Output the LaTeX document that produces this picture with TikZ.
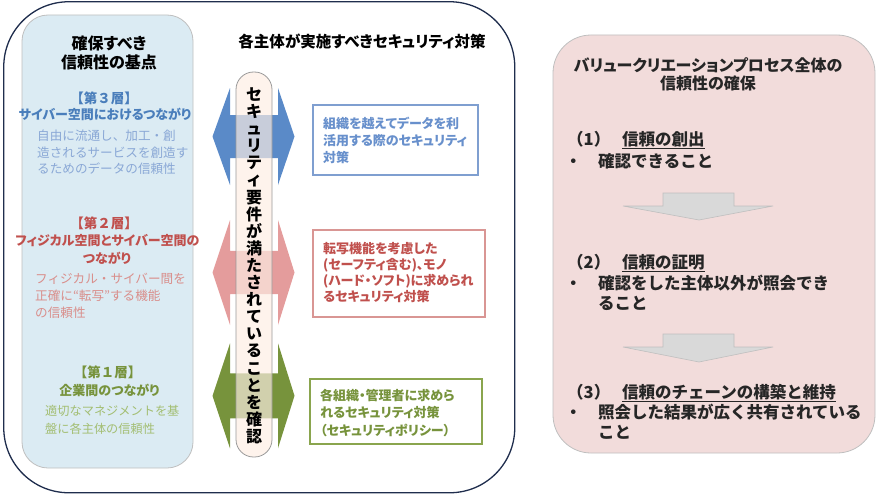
\documentclass[tikz,border=0pt]{standalone}
\usepackage{fontspec}
\setmainfont{Noto Sans CJK JP}
\newfontfamily\pjp{Noto Sans CJK JP}[RawFeature={+palt}]
\newcommand\myfs[2]{\fontsize{#1}{#2}\selectfont}
\definecolor{navy}{HTML}{1F2D4D}
\definecolor{lbfill}{HTML}{DBEBF3}
\definecolor{boxgray}{HTML}{BFBFBF}
\definecolor{pinkfill}{HTML}{F2DCDB}
\definecolor{pillfill}{HTML}{FDEEE3}
\definecolor{arrblue}{HTML}{5A8AC8}
\definecolor{arrred}{HTML}{E49C9C}
\definecolor{arrgreen}{HTML}{77933C}
\definecolor{hblue}{HTML}{4A7EBB}
\definecolor{dblue}{HTML}{8AA8D6}
\definecolor{hred}{HTML}{C0504D}
\definecolor{dred}{HTML}{D98E8B}
\definecolor{hgreen}{HTML}{77933C}
\definecolor{dgreen}{HTML}{A3BE72}
\definecolor{tblue}{HTML}{6890CC}
\definecolor{bblue}{HTML}{7F9FD0}
\definecolor{bred}{HTML}{D99694}
\definecolor{bgreen}{HTML}{8AA54E}
\definecolor{grayarr}{HTML}{D9D9D9}
\definecolor{txtdark}{HTML}{262626}
\tikzset{
  t/.style={inner sep=0, anchor=base},
  tl/.style={inner sep=0, anchor=base west},
  panel/.style={draw=boxgray, line width=0.8pt, inner sep=0},
  tbox/.style={draw, line width=1.5pt, fill=white, inner sep=0},
  leftdesc/.style={tl, font=\myfs{12.6}{15}},
  lefthead/.style={t, font=\pjp\bfseries\myfs{13}{15}},
  layerhead/.style={t, font=\bfseries\myfs{13.5}{15}},
  boxtxt/.style={tl, font=\pjp\bfseries\myfs{13}{15}},
  itemtxt/.style={tl, font=\bfseries\myfs{16.5}{20}, text=txtdark},
}
\begin{document}
\begin{tikzpicture}[x=1pt,y=-1pt]
\useasboundingbox (0,0) rectangle (886,495);
% outer frame
\node[draw=navy, line width=1.3pt, rounded corners=65pt, minimum width=511pt, minimum height=491pt, inner sep=0] (outer) at (259.25,247.25) {};
% left panel
\node[panel, fill=lbfill, rounded corners=26pt, minimum width=171pt, minimum height=453pt] (leftp) at (107.5,241.5) {};
% double arrows
\newcommand\dblarrow[4]{%
  \fill[#1] (212.5,#2) -- (230,#2-#3) -- (230,#2-#4) -- (278,#2-#4) -- (278,#2-#3) -- (294.5,#2)
     -- (278,#2+#3) -- (278,#2+#4) -- (230,#2+#4) -- (230,#2+#3) -- cycle;}
\dblarrow{arrblue}{136.5}{48.5}{21.5}
\dblarrow{arrred}{272.5}{52.5}{21.7}
\dblarrow{arrgreen}{395.8}{52.5}{22.5}
% pill
\node[draw=boxgray!80!black, line width=0.8pt, fill=pillfill, fill opacity=0.68, draw opacity=1, rounded corners=17.5pt, minimum width=36pt, minimum height=385pt, inner sep=0] (pill) at (254,264.5) {};
\node[inner sep=0, align=center, font=\bfseries\myfs{16}{17.1}, text=black] (vt) at (254,265.8)
 {セ\\キ\\ュ\\リ\\テ\\ィ\\要\\件\\が\\満\\た\\さ\\れ\\て\\い\\る\\こ\\と\\を\\確\\認};
% left texts
\node[t, font=\pjp\bfseries\myfs{16}{20}] (lt1) at (109,49) {確保すべき};
\node[t, font=\pjp\bfseries\myfs{16}{20}] (lt2) at (109,69) {信頼性の基点};
\node[layerhead, text=hblue] (l3h) at (104,103) {【第３層】};
\node[lefthead, text=hblue] (l3t) at (105,119) {サイバー空間におけるつながり};
\node[leftdesc, text=dblue] (l3d1) at (37,140) {自由に流通し、加工・創};
\node[leftdesc, text=dblue] (l3d2) at (37,157) {造されるサービスを創造す};
\node[leftdesc, text=dblue] (l3d3) at (37,173) {るためのデータの信頼性};
\node[layerhead, text=hred] (l2h) at (104,228) {【第２層】};
\node[lefthead, text=hred] (l2t) at (107.5,245) {フィジカル空間とサイバー空間の};
\node[lefthead, text=hred] (l2u) at (107,263) {つながり};
\node[leftdesc, text=dred] (l2d1) at (35,283) {フィジカル・サイバー間を};
\node[leftdesc, text=dred] (l2d2) at (35,300) {正確に“転写”する機能};
\node[leftdesc, text=dred] (l2d3) at (35,317) {の信頼性};
\node[layerhead, text=hgreen] (l1h) at (107.5,377) {【第１層】};
\node[lefthead, text=hgreen] (l1t) at (109.5,395) {企業間のつながり};
\node[leftdesc, text=dgreen, font=\myfs{12.2}{15}] (l1d1) at (45,415) {適切なマネジメントを基};
\node[leftdesc, text=dgreen, font=\myfs{12.2}{15}] (l1d2) at (45,433) {盤に各主体の信頼性};
% middle title
\node[t, font=\pjp\bfseries\myfs{15.5}{20}] (mt) at (362,47.7) {各主体が実施すべきセキュリティ対策};
% right text boxes
\node[tbox, draw=bblue, minimum width=165pt, minimum height=70pt] (bbox) at (395.5,140) {};
\node[boxtxt, text=tblue] (bb1) at (323,128) {組織を越えてデータを利};
\node[boxtxt, text=tblue] (bb2) at (323,145) {活用する際のセキュリティ};
\node[boxtxt, text=tblue] (bb3) at (323,162) {対策};
\node[tbox, draw=bred, minimum width=172pt, minimum height=87pt] (rbox) at (399,273.5) {};
\node[boxtxt, text=hred] (rb1) at (323,253) {転写機能を考慮した};
\node[boxtxt, text=hred] (rb2) at (323,269) {(セーフティ含む)、モノ};
\node[boxtxt, text=hred] (rb3) at (323,285) {(ハード・ソフト)に求められ};
\node[boxtxt, text=hred] (rb4) at (323,301) {るセキュリティ対策};
\node[tbox, draw=bgreen, minimum width=172pt, minimum height=65pt] (gbox) at (396,411.5) {};
\node[boxtxt, text=hgreen] (gb1) at (320,400) {各組織・管理者に求めら};
\node[boxtxt, text=hgreen] (gb2) at (320,417) {れるセキュリティ対策};
\node[boxtxt, text=hgreen] (gb3) at (320,435) {（セキュリティポリシー）};
% right panel
\node[panel, fill=pinkfill, rounded corners=38pt, minimum width=322pt, minimum height=418pt] (rightp) at (714,244) {};
\node[t, font=\pjp\bfseries\myfs{16}{20}, text=txtdark] (rt1) at (708,71) {バリュークリエーションプロセス全体の};
\node[t, font=\pjp\bfseries\myfs{16}{20}, text=txtdark] (rt2) at (708,89) {信頼性の確保};
\node[itemtxt] (i1) at (567,145.3) {\makebox[55pt][l]{（1）}\underline{信頼の創出}};
\node[itemtxt] (i1b) at (565,167.3) {\makebox[33pt][l]{・}確認できること};
\fill[grayarr, draw=boxgray, line width=0.6pt] (663,193) -- (734,193) -- (734,206) -- (773,206) -- (699,220) -- (623,206) -- (663,206) -- cycle;
\node[itemtxt] (i2) at (567,268.3) {\makebox[55pt][l]{（2）}\underline{信頼の証明}};
\node[itemtxt] (i2b) at (565,289.3) {\makebox[33pt][l]{・}確認をした主体以外が照会でき};
\node[itemtxt] (i2c) at (598,309.3) {ること};
\fill[grayarr, draw=boxgray, line width=0.6pt] (663,334) -- (734,334) -- (734,347) -- (773,347) -- (699,362) -- (623,347) -- (663,347) -- cycle;
\node[itemtxt] (i3) at (567,398.3) {\makebox[55pt][l]{（3）}\underline{信頼のチェーンの構築と維持}};
\node[itemtxt] (i3b) at (565,418.3) {\makebox[33pt][l]{・}照会した結果が広く共有されている};
\node[itemtxt] (i3c) at (598,438.3) {こと};
\end{tikzpicture}
\end{document}
